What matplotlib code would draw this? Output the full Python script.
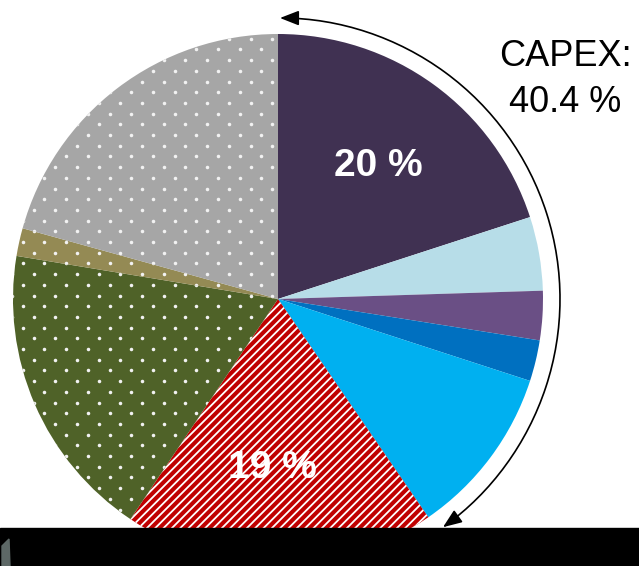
import numpy as np
import matplotlib.pyplot as plt
from matplotlib.patches import Rectangle, Polygon, FancyArrowPatch
from matplotlib.path import Path

plt.rcParams['font.family'] = ['Liberation Sans', 'DejaVu Sans']
plt.rcParams['hatch.linewidth'] = 1.3

# shares of the cost split, clockwise from 12 o'clock
shares = [20.0, 4.5, 3.0, 2.5, 10.4, 19.0, 18.2, 1.7, 20.7]
colors = ['#403152', '#b7dde8', '#6a4f85', '#0070c0', '#00b0f0',
          '#c00000', '#4f6228', '#948a54', '#a6a6a6']
fills = ['', '', '', '', '', 'stripes', 'dots', 'dots', 'dots']
labels = ['20 %', '', '', '', '', '19 %', '', '', '']
capex_text = ['CAPEX:', '40.4 %']

W, H = 639, 566
fig = plt.figure(figsize=(W / 100, H / 100), dpi=100)
ax = fig.add_axes([0, 0, 1, 1])

cx, cy, r = 278, H - 299, 265
wedges, _ = ax.pie(shares, colors=colors, startangle=90, counterclock=False,
                   center=(cx, cy), radius=r, frame=True,
                   wedgeprops=dict(linewidth=0))

# dotted pattern fill (staggered grid like the office pattern)
gx, gy = np.meshgrid(np.arange(0, W, 21.7), np.arange(0, H, 10.7))
gx = gx + (np.arange(gy.shape[0]) % 2)[:, None] * 10.85
for w, f in zip(wedges, fills):
    if f == 'stripes':
        w.set_edgecolor('white')
        w.set_hatch('////')
    elif f == 'dots':
        sc = ax.scatter(gx.ravel() + 1, gy.ravel() + 3, s=6.5, c='#f2f2f2',
                        linewidths=0, zorder=2)
        sc.set_clip_path(w)

# percentage labels inside the two big wedges
txt_pos = {0: (378, H - 166), 5: (272, H - 468)}
for i, (x, y) in txt_pos.items():
    ax.text(x, y, labels[i], color='white', fontsize=28, fontweight='bold',
            ha='center', va='center', zorder=3)

ax.text(565, H - 57, capex_text[0], fontsize=26, ha='center', va='center')
ax.text(565, H - 103, capex_text[1], fontsize=26, ha='center', va='center')

# arc with arrows around the CAPEX part
ar = 281
arc = Path.arc(-54.3, 89.8)
verts = arc.vertices * ar + np.array([cx + 1, cy])
ax.add_patch(FancyArrowPatch(path=Path(verts, arc.codes),
                             arrowstyle='<|-|>,head_length=11.5,head_width=4.5',
                             mutation_scale=1, shrinkA=0, shrinkB=0,
                             color='black', lw=1.2, zorder=5))

# black strip at the bottom of the screenshot
ax.add_patch(Rectangle((0, 0), W, H - 528, color='black', zorder=4))
ax.add_patch(Polygon([(2, H - 546), (9, H - 539), (10, 0), (2, 0)],
                     closed=True, color='#5d6866', zorder=4.5))

ax.set_xlim(0, W)
ax.set_ylim(0, H)
ax.set_aspect('auto')
ax.axis('off')

fig.savefig('out.png', dpi=100)
